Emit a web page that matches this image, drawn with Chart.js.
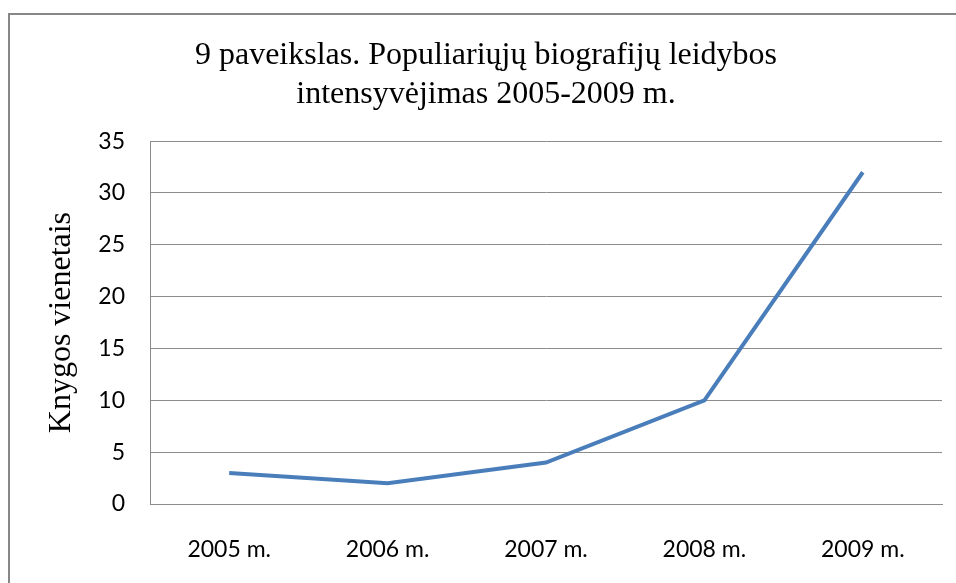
<!DOCTYPE html>
<html>
<head>
<meta charset="utf-8">
<script src="https://cdn.jsdelivr.net/npm/chart.js@4"></script>
<style>
  html, body { margin: 0; padding: 0; background: #fff; overflow: hidden; }
  #wrap { position: absolute; left: 0; top: 0; width: 956px; height: 583px; }
</style>
</head>
<body>
<div id="wrap"><canvas id="myChart" width="956" height="583"></canvas></div>
<script>
const ctx = document.getElementById('myChart');

// data
const years = ['2005 m.', '2006 m.', '2007 m.', '2008 m.', '2009 m.'];
const books = [3, 2, 4, 10, 32];
const titleLines = ['9 paveikslas. Populiariųjų biografijų leidybos', 'intensyvėjimas 2005-2009 m.'];
const yTitle = 'Knygos vienetais';

const gridColor = '#8c8c8c';
const sans = 'Lato, "Open Sans", sans-serif';
const serif = '"Liberation Serif", "Times New Roman", serif';

// grey frame round the whole chart (it runs off the right and bottom edges)
const frame = {
    id: 'frame',
    beforeDraw(chart) {
        const c = chart.ctx;
        c.save();
        c.fillStyle = '#fff';
        c.fillRect(0, 0, chart.width, chart.height);
        c.strokeStyle = '#878787';
        c.lineWidth = 2;
        c.strokeRect(9, 14, 1000, 1000);
        c.restore();
    }
};

const myChart = new Chart(ctx, {
    type: 'line',
    data: {
        labels: years,
        datasets: [{
            data: books,
            borderColor: '#4a7ebb',
            borderWidth: 4,
            pointRadius: 0,
            tension: 0,
            fill: false
        }]
    },
    options: {
        responsive: false,
        animation: false,
        layout: { padding: { left: 30, right: 14, top: 0, bottom: 0 } },
        plugins: {
            legend: { display: false },
            tooltip: { enabled: false },
            title: {
                display: true,
                text: titleLines,
                color: '#000',
                font: { family: serif, size: 32, weight: 'normal', lineHeight: 1.19 },
                padding: { top: 37, bottom: 28 }
            }
        },
        scales: {
            x: {
                offset: true,
                grid: { display: false, drawTicks: false },
                border: { display: true, color: gridColor, width: 1 },
                ticks: {
                    color: '#000',
                    padding: 32,
                    font: { family: sans, size: 23 }
                },
                afterFit(s) { s.height = 79; }
            },
            y: {
                min: 0,
                max: 35,
                ticks: {
                    stepSize: 5,
                    color: '#000',
                    padding: 25,
                    font: { family: sans, size: 23 }
                },
                grid: { color: gridColor, drawTicks: false, lineWidth: 1 },
                border: { display: true, color: gridColor, width: 1 },
                title: {
                    display: true,
                    text: yTitle,
                    color: '#000',
                    font: { family: serif, size: 32 },
                    padding: { top: 12, bottom: 0 }
                },
                afterFit(s) { s.width = 120; }
            }
        }
    },
    plugins: [frame]
});
</script>
</body>
</html>
